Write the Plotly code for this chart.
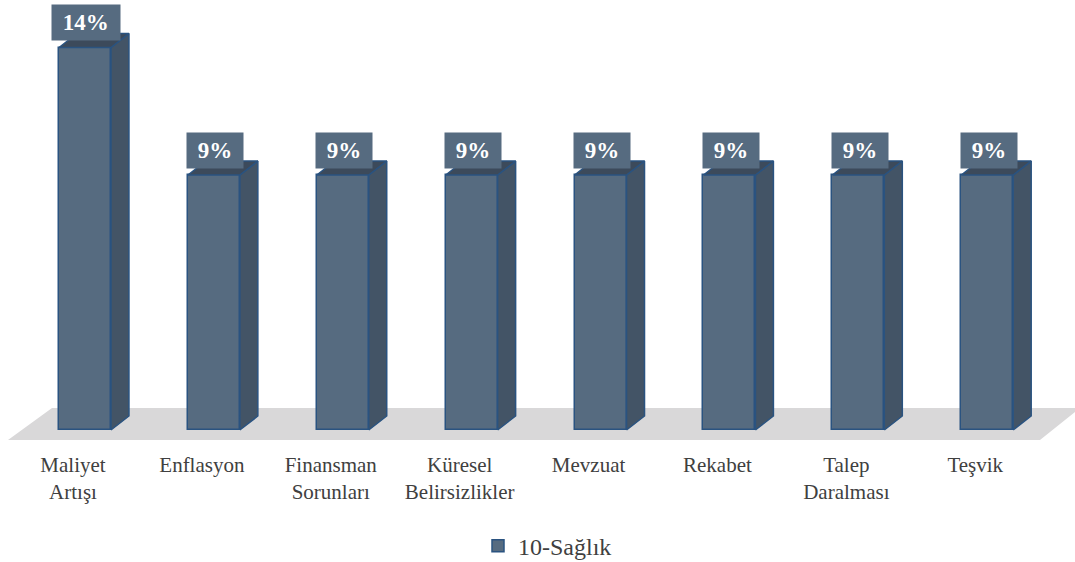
import plotly.graph_objects as go

# Share of firms naming each factor (10-Sağlık sector)
categories = ["Maliyet<br>Artışı", "Enflasyon", "Finansman<br>Sorunları",
              "Küresel<br>Belirsizlikler", "Mevzuat", "Rekabet",
              "Talep<br>Daralması", "Teşvik"]
values = [3 / 22, 2 / 22, 2 / 22, 2 / 22, 2 / 22, 2 / 22, 2 / 22, 2 / 22]
series_name = "10-Sağlık"

W, H = 1075, 562
MARGIN_B = 117
X_RANGE = [-0.6594, 7.681]
Y_RANGE = [-0.00535, 0.1533]

# pixels per data unit, used to express the pseudo-3D depth in data units
px_x = W / (X_RANGE[1] - X_RANGE[0])
px_y = (H - MARGIN_B) / (Y_RANGE[1] - Y_RANGE[0])
DX = 18 / px_x
DY = 14 / px_y
BAR_W = 0.403
LABEL_SHIFT = -12 / px_x   # category labels sit under the floor's front edge

FRONT = "#566B80"
SIDE = "#435466"
TOP = "#3C4A5B"
EDGE = "#2A5380"
FLOOR = "#D9D8D9"
FONT = "'Liberation Serif', 'Times New Roman', Times, serif"

xs = list(range(len(categories)))

fig = go.Figure()

# front faces
fig.add_trace(go.Bar(
    x=xs, y=values, width=BAR_W, name=series_name,
    marker=dict(color=FRONT, line=dict(color=EDGE, width=1.5)),
    hoverinfo="skip",
))

# side and top faces
side_x, side_y, top_x, top_y = [], [], [], []
for x, v in zip(xs, values):
    l, r = x - BAR_W / 2, x + BAR_W / 2
    side_x += [r, r + DX, r + DX, r, r, None]
    side_y += [0, DY, v + DY, v, 0, None]
    top_x += [l, l + DX, r + DX, r, l, None]
    top_y += [v, v + DY, v + DY, v, v, None]

fig.add_trace(go.Scatter(x=side_x, y=side_y, mode="lines", fill="toself",
                         fillcolor=SIDE, line=dict(color=EDGE, width=1.5),
                         showlegend=False, hoverinfo="skip"))
fig.add_trace(go.Scatter(x=top_x, y=top_y, mode="lines", fill="toself",
                         fillcolor=TOP, line=dict(color=EDGE, width=1.5),
                         showlegend=False, hoverinfo="skip"))

# floor plane behind the bars
fl_bl = X_RANGE[0] + 8 / px_x
fl_tl = X_RANGE[0] + 52 / px_x
fl_tr = X_RANGE[0] + 1080 / px_x
fl_br = X_RANGE[0] + 1040 / px_x
fl_top = 22 / px_y
fl_bot = -10 / px_y
fig.add_shape(type="path",
              path=f"M {fl_bl},{fl_bot} L {fl_tl},{fl_top} L {fl_tr},{fl_top} L {fl_br},{fl_bot} Z",
              fillcolor=FLOOR, line=dict(width=0), layer="below",
              xref="x", yref="y")

# value labels
for x, v in zip(xs, values):
    fig.add_annotation(
        x=x, y=v, xref="x", yref="y", text=f"<b> {v:.0%} </b>",
        showarrow=False, yshift=25, xshift=1.5, yanchor="middle",
        font=dict(family=FONT, size=23, color="white"),
        bgcolor=FRONT, borderpad=5,
    )

fig.update_layout(
    width=W, height=H,
    margin=dict(l=0, r=0, t=0, b=MARGIN_B),
    paper_bgcolor="white", plot_bgcolor="white",
    font=dict(family=FONT, size=21, color="#404040"),
    showlegend=True,
    legend=dict(orientation="h", x=0.5 + 10 / W, xanchor="center",
                yref="container", y=0.028, yanchor="middle",
                itemwidth=30,
                font=dict(family=FONT, size=24, color="#404040")),
    xaxis=dict(range=X_RANGE, tickvals=[x + LABEL_SHIFT for x in xs],
               ticktext=categories,
               showgrid=False, zeroline=False, showline=False, ticks="",
               ticklabelstandoff=5,
               tickfont=dict(family=FONT, size=21, color="#404040")),
    yaxis=dict(range=Y_RANGE, visible=False, showgrid=False, zeroline=False),
    bargap=0,
)

fig.write_html("out.html")
